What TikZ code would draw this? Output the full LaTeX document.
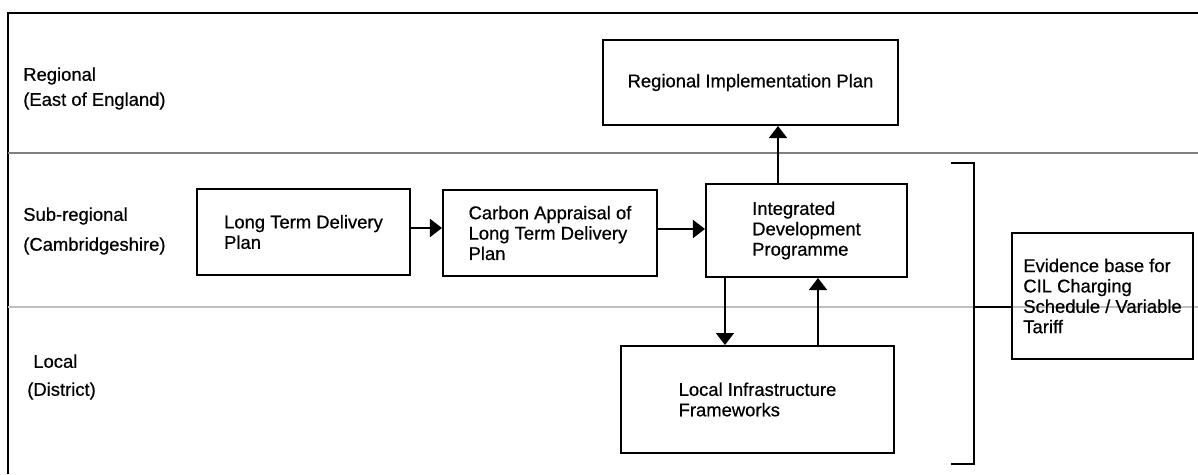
\documentclass[tikz,border=0pt]{standalone}
\usepackage{fontspec}
\setmainfont{Liberation Sans}[UprightFeatures={FakeBold=0.6}]
\usetikzlibrary{arrows.meta}

\tikzset{
  box/.style={draw, line width=1.4pt, align=left, inner sep=0pt},
  tier/.style={anchor=west, align=left, inner sep=0pt},
  arr/.style={-{Triangle[length=0.3cm,width=0.45cm]}, line width=1.1pt},
  divider/.style={line width=1.3pt},
}

\begin{document}
\begin{tikzpicture}[x=0.025cm, y=-0.025cm, font=\fontsize{13.1}{14.5}\selectfont]
      \useasboundingbox (0,0) rectangle (1198,474);
      % frame and tier lines
      \draw[line width=1.4pt] (8,474) -- (8,13) -- (1198,13);
      \draw[divider, black!50] (8,153) -- (1198,153);
      \draw[divider, black!25] (8,307) -- (1198,307);
      \node[tier] (regional) at (23,88.5) {Regional\\[3.3pt](East of England)};
      \node[tier] (subregional) at (23,231) {Sub-regional\\[6.8pt](Cambridgeshire)};
      \node[tier] (local) at (27,377) {\hspace*{4.3pt}Local\\[5.4pt](District)};
      % boxes
      \node[box, minimum width=7.375cm, minimum height=2.125cm] (rip) at (750.5,82.5) {Regional Implementation Plan};
      \node[box, minimum width=5.325cm, minimum height=2.15cm] (ltdp) at (303.5,232) {Long Term Delivery\\Plan};
      \node[box, minimum width=5.35cm, minimum height=2.15cm] (carbon) at (550,233) {Carbon Appraisal of\\Long Term Delivery\\Plan};
      \node[box, minimum width=5.025cm, minimum height=2.325cm] (idp) at (806.5,230.5) {Integrated\\Development\\Programme};
      \node[box, minimum width=6.825cm, minimum height=2.675cm] (lif) at (757.5,399.5) {Local Infrastructure\\Frameworks};
      \node[box, minimum width=4.525cm, minimum height=3.15cm] (evid) at (1102.5,296) {Evidence base for\\CIL Charging\\Schedule / Variable\\Tariff};
      % arrows
      \begin{scope}[arr]
        \draw ([yshift=0.1cm]ltdp.east) -- ([yshift=0.1cm]ltdp.east -| carbon.west);
        \draw ([yshift=0.1cm]carbon.east) -- ([yshift=0.1cm]carbon.east -| idp.west);
        \draw ([xshift=-0.7125cm]idp.north) -- ([xshift=-0.7125cm]idp.north |- rip.south);
        \draw ([xshift=-2.0375cm]idp.south) -- ([xshift=-2.0375cm]idp.south |- lif.north);
        \draw ([xshift=0.2875cm]idp.south |- lif.north) -- ([xshift=0.2875cm]idp.south);
      \end{scope}
      % bracket round the evidence base
      \coordinate (brk) at (974,307);
      \draw[line width=1.4pt] (951,163) -- (974,163) -- (974,464) -- (951,464);
      \draw[line width=1.4pt] (brk) -- (brk -| evid.west);
    \end{tikzpicture}
\end{document}
